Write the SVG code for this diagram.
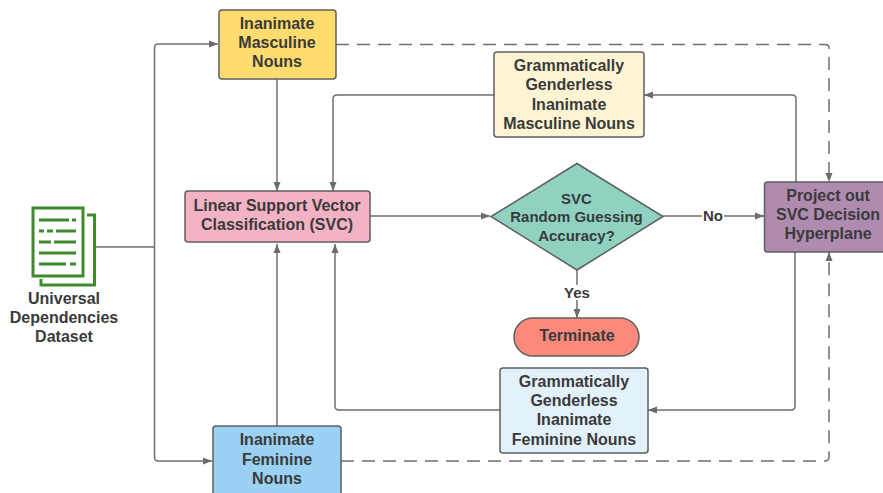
<svg xmlns="http://www.w3.org/2000/svg" width="883" height="493" viewBox="0 0 883 493">
<defs>
<marker id="a" markerUnits="userSpaceOnUse" markerWidth="10" markerHeight="10" refX="9" refY="5" orient="auto"><path d="M0,1.500 L9,5 L0,8.500 Z" fill="#6b6b6b"/></marker>
</defs>
<style>
.n{stroke:#5f5f5f;stroke-width:1.5}
.t{font-family:"Liberation Sans",Arial,sans-serif;font-weight:700;font-size:16px;fill:#3a3a3a;text-anchor:middle}
.s{font-size:15px}
.c{fill:none;stroke:#6f6f6f;stroke-width:1.5;marker-end:url(#a)}
.p{fill:none;stroke:#6f6f6f;stroke-width:1.5}
.d{stroke-dasharray:13 8}
.g{fill:none;stroke:#3f8a2e;stroke-width:3}
</style>
<rect width="883" height="493" fill="#ffffff"/>
<g id="connectors">
<path class="p" d="M95 247H154"/>
<path class="c" d="M154.500 247V48Q154.500 44 158 44H218"/>
<path class="c" d="M154.500 247V457Q154.500 461 158 461H212"/>
<path class="c" d="M277 79V191"/>
<path class="c" d="M277 426V244"/>
<path class="c" d="M370 216H490"/>
<path class="c" d="M663 216H764"/>
<path class="c" d="M577 270V318"/>
<path class="c" d="M796 182V99Q796 95 792 95H644"/>
<path class="c" d="M494 95H337Q333 95 333 99V191"/>
<path class="c" d="M795 252V406Q795 410 791 410H648"/>
<path class="c" d="M500 410H339Q335 410 335 406V244"/>
<path class="c d" d="M336 44.500H825Q829 44.500 829 48V182"/>
<path class="c d" d="M341 461H825Q829 461 829 457V252"/>
</g>
<g id="dataset">
<rect class="g" x="33" y="208" width="50" height="68"/>
<path class="g" d="M87 215H94.500V285H41V279"/>
<path d="M39 220H69M72 220H76M39 231H44M47 231H53M56 231H76M39 242H51M54 242H76M39 253H76M39 264H66M70 264H76" fill="none" stroke="#3f8a2e" stroke-width="3"/>
<text class="t" x="64" y="304">Universal</text>
<text class="t" x="64" y="323">Dependencies</text>
<text class="t" x="64" y="342">Dataset</text>
</g>
<g id="masc">
<rect class="n" x="219" y="10" width="117" height="69" rx="3" fill="#ffdc6e"/>
<text class="t" x="277" y="29">Inanimate</text>
<text class="t" x="277" y="48">Masculine</text>
<text class="t" x="277" y="67">Nouns</text>
</g>
<g id="gmasc">
<rect class="n" x="494" y="52" width="150" height="85" rx="3" fill="#fff5d4"/>
<text class="t" x="569" y="71">Grammatically</text>
<text class="t" x="569" y="90">Genderless</text>
<text class="t" x="569" y="109.500">Inanimate</text>
<text class="t" x="569" y="129">Masculine Nouns</text>
</g>
<g id="svc">
<rect class="n" x="185" y="191" width="185" height="51" rx="3" fill="#f4b3c4"/>
<text class="t" x="277" y="211">Linear Support Vector</text>
<text class="t" x="277" y="230">Classification (SVC)</text>
</g>
<g id="decision">
<path class="n" d="M577 163.500L663 216.500L577 270L491 216.500Z" fill="#8fd2c2"/>
<text class="t s" x="576.500" y="203.500">SVC</text>
<text class="t s" x="576.500" y="222">Random Guessing</text>
<text class="t s" x="576.500" y="240.500">Accuracy?</text>
</g>
<g id="project">
<rect class="n" x="764.500" y="182" width="125" height="70" rx="3" fill="#b08bb0"/>
<text class="t" x="828" y="201">Project out</text>
<text class="t" x="828" y="220">SVC Decision</text>
<text class="t" x="828" y="239">Hyperplane</text>
</g>
<g id="no"><rect x="702" y="208" width="22" height="16" fill="#fff"/><text class="t s" x="713" y="220.500">No</text></g>
<g id="yes"><rect x="563" y="285" width="28" height="15" fill="#fff"/><text class="t s" x="577" y="297.500">Yes</text></g>
<g id="terminate">
<rect class="n" x="514" y="318" width="125" height="38" rx="19" fill="#fb8a7c"/>
<text class="t" x="577" y="341">Terminate</text>
</g>
<g id="gfem">
<rect class="n" x="500" y="368" width="148" height="85" rx="3" fill="#e3f1fa"/>
<text class="t" x="574" y="386.500">Grammatically</text>
<text class="t" x="574" y="405.500">Genderless</text>
<text class="t" x="574" y="425">Inanimate</text>
<text class="t" x="574" y="444.500">Feminine Nouns</text>
</g>
<g id="fem">
<rect class="n" x="213" y="426" width="128" height="80" rx="3" fill="#9bd1f3"/>
<text class="t" x="277" y="445">Inanimate</text>
<text class="t" x="277" y="464.500">Feminine</text>
<text class="t" x="277" y="483.500">Nouns</text>
</g>
</svg>
